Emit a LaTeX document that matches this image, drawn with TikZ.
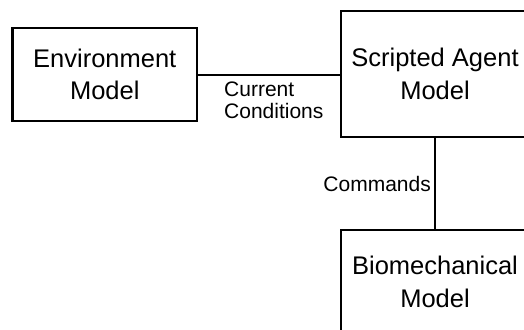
\documentclass[tikz,border=0pt]{standalone}
\usepackage{fontspec}
\setmainfont{Liberation Sans}
\begin{document}
\begin{tikzpicture}[x=1pt,y=1pt,
  block/.style={draw, line width=2.3pt, rectangle, align=center, inner sep=0pt,
    font=\fontsize{25.5}{32.5}\selectfont},
  wire/.style={line width=2pt},
  lbl/.style={inner sep=0pt, align=left, font=\fontsize{21}{22.5}\selectfont}]
  \useasboundingbox (0,0) rectangle (524,-329);
  % model blocks
  \node[block, minimum width=184.5pt, minimum height=93.5pt] (env) at (104.75,-74.5)
    {Environment\\Model};
  \node[block, minimum width=188pt, minimum height=126pt] (sa) at (435,-74)
    {Scripted Agent\\Model};
  \node[block, minimum width=188pt, minimum height=104pt] (bio) at (435,-282)
    {Biomechanical\\Model};
  % connections
  \draw[wire] (env.east) -- (env.east -| sa.west);
  \draw[wire] (sa.south) -- (sa.south |- bio.north);
  % connection labels
  \node[lbl, anchor=north west] (cc) at (224,-81.5) {Current\\Conditions};
  \node[lbl, anchor=base east] (cmd) at (431,-191.7) {Commands};
\end{tikzpicture}
\end{document}
